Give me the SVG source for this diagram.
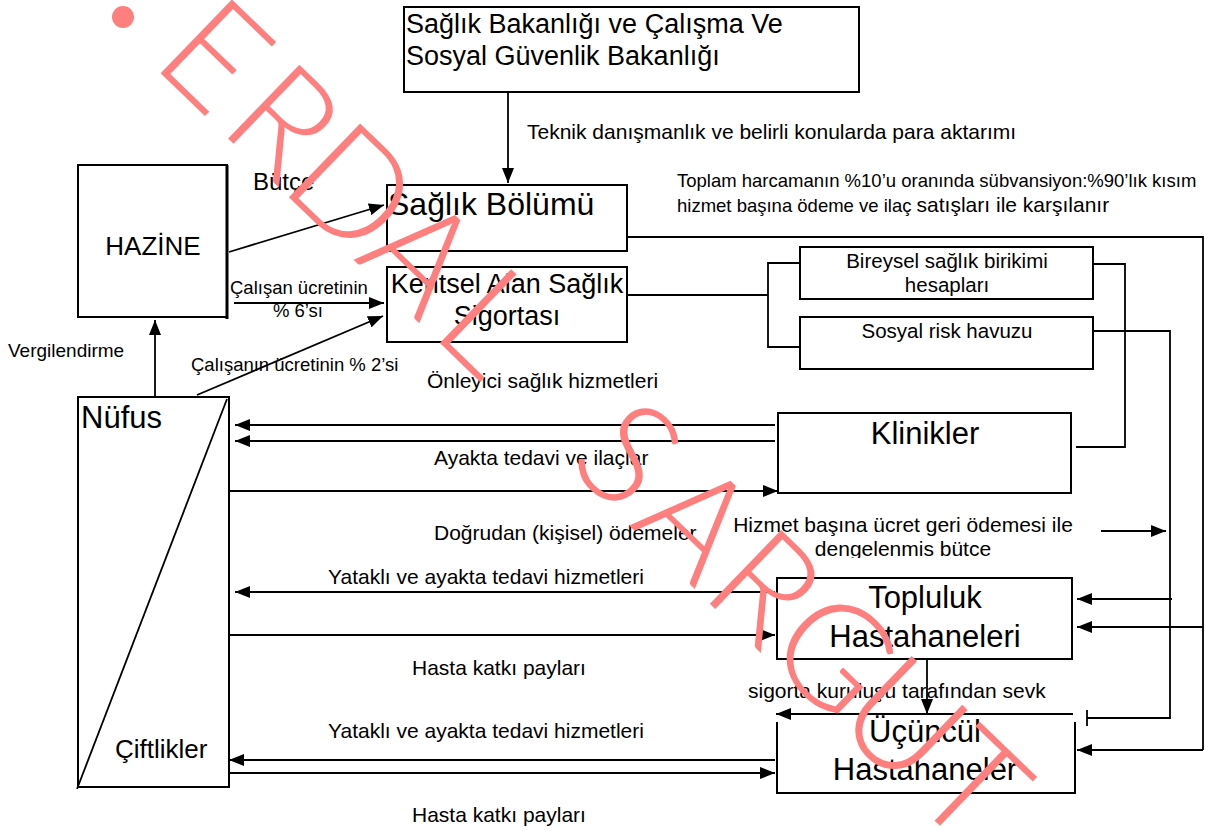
<svg xmlns="http://www.w3.org/2000/svg" width="1205" height="831" viewBox="0 0 1205 831">
<defs>
<marker id="ah" markerUnits="userSpaceOnUse" markerWidth="16" markerHeight="12" refX="15" refY="6" orient="auto">
<path d="M0,0 L15,6 L0,12 z" fill="#000"/>
</marker>
<clipPath id="clipH"><rect x="700" y="500" width="400" height="58"/></clipPath>
</defs>
<style>
text{font-family:"Liberation Sans",Arial,sans-serif;fill:#000}
.box{fill:#fff;stroke:#000;stroke-width:2}
.ln{fill:none;stroke:#000;stroke-width:1.8}
.ar{fill:none;stroke:#000;stroke-width:1.8;marker-end:url(#ah)}
.big{font-size:31px}
.mid{font-size:27px}
.lab{font-size:21px}
.sm{font-size:18.5px}
.wm{font-family:Lato,"DejaVu Sans",sans-serif;font-weight:300;font-size:145px;fill:#ff7f7f}
</style>
<rect width="1205" height="831" fill="#fff"/>

<g id="connectors">
<line class="ar" x1="508" y1="88" x2="508" y2="183"/>
<line class="ar" x1="229" y1="252" x2="384" y2="205"/>
<line class="ar" x1="234" y1="303" x2="384" y2="303"/>
<line class="ar" x1="197" y1="395" x2="383" y2="316"/>
<line class="ar" x1="155" y1="397" x2="155" y2="320"/>
<polyline class="ln" points="627,295 768,295"/>
<polyline class="ln" points="800,263 768,263 768,347 800,347"/>
<polyline class="ln" points="1093,264 1125,264 1125,447 1076,447"/>
<polyline class="ln" points="627,237 1203,237 1203,750"/>
<line class="ar" x1="1203" y1="750" x2="1077" y2="750"/>
<line class="ar" x1="1203" y1="627" x2="1077" y2="627"/>
<polyline class="ln" points="1093,331 1170,331 1170,718 1087,718"/>
<line class="ln" x1="1087" y1="710" x2="1087" y2="726"/>
<line class="ar" x1="1172" y1="599" x2="1077" y2="599"/>
<line class="ar" x1="1101" y1="531" x2="1166" y2="531"/>
<line class="ar" x1="775" y1="425" x2="235" y2="425"/>
<line class="ar" x1="775" y1="441" x2="235" y2="441"/>
<line class="ar" x1="229" y1="491" x2="778" y2="491"/>
<line class="ar" x1="775" y1="592" x2="235" y2="592"/>
<line class="ar" x1="229" y1="635" x2="775" y2="635"/>
<line class="ar" x1="775" y1="760" x2="229" y2="760"/>
<line class="ar" x1="229" y1="773" x2="775" y2="773"/>
<line class="ar" x1="927" y1="659" x2="927" y2="714"/>
<line class="ar" x1="1073" y1="714" x2="776" y2="714"/>
</g>

<g id="labels">
<text class="lab" x="527" y="139" font-size="21.5px">Teknik danışmanlık ve belirli konularda para aktarımı</text>
<text class="sm" x="677" y="187">Toplam harcamanın %10’u oranında sübvansiyon:%90’lık kısım</text>
<text class="sm" x="677" y="212">hizmet başına ödeme ve ilaç <tspan font-size="21px">satışları ile karşılanır</tspan></text>
<text x="253" y="190" font-size="24px">Bütçe</text>
<text class="sm" x="230" y="294">Çalışan ücretinin</text>
<text class="sm" x="298" y="317" text-anchor="middle">% 6’sı</text>
<text class="sm" x="191" y="371">Çalışanın ücretinin % 2’si</text>
<text x="8" y="357" font-size="19px">Vergilendirme</text>
<text class="lab" x="427" y="388">Önleyici sağlık hizmetleri</text>
<text class="lab" x="434" y="465">Ayakta tedavi ve ilaçlar</text>
<text class="lab" x="434" y="540">Doğrudan (kişisel) ödemeler</text>
<g clip-path="url(#clipH)">
<text class="lab" x="903" y="532" text-anchor="middle">Hizmet başına ücret geri ödemesi ile</text>
<text class="lab" x="903" y="556" text-anchor="middle">dengelenmis bütce</text>
</g>
<text class="lab" x="328" y="584">Yataklı ve ayakta tedavi hizmetleri</text>
<text class="lab" x="412" y="675">Hasta katkı payları</text>
<text class="lab" x="748" y="698">sigorta kuruluşu tarafından sevk</text>
<text class="lab" x="328" y="738">Yataklı ve ayakta tedavi hizmetleri</text>
<text class="lab" x="412" y="822">Hasta katkı payları</text>
</g>

<g id="bakanlik">
<rect class="box" x="404" y="7" width="455" height="85"/>
<text class="mid" x="406" y="33">Sağlık Bakanlığı ve Çalışma Ve</text>
<text class="mid" x="406" y="65">Sosyal Güvenlik Bakanlığı</text>
</g>
<g id="hazine">
<rect class="box" x="78" y="165" width="149" height="152"/>
<line x1="227" y1="165" x2="227" y2="319" stroke="#000" stroke-width="3"/>
<text x="153" y="255" font-size="26px" text-anchor="middle">HAZİNE</text>
</g>
<g id="saglik-bolumu">
<rect class="box" x="387" y="185" width="240" height="66"/>
<text x="388" y="215" font-size="32px">Sağlık Bölümü</text>
</g>
<g id="kentsel">
<rect class="box" x="387" y="267" width="240" height="75"/>
<text class="mid" x="507" y="293" text-anchor="middle">Kentsel Alan Sağlık</text>
<text class="mid" x="507" y="325" text-anchor="middle">Sigortası</text>
</g>
<g id="bireysel">
<rect class="box" x="800" y="247" width="293" height="52"/>
<text x="947" y="268" font-size="20.5px" text-anchor="middle">Bireysel sağlık birikimi</text>
<text x="947" y="292" font-size="20.5px" text-anchor="middle">hesapları</text>
</g>
<g id="sosyal">
<rect class="box" x="800" y="317" width="293" height="52"/>
<text x="947" y="338" font-size="20.5px" text-anchor="middle">Sosyal risk havuzu</text>
</g>
<g id="nufus">
<rect class="box" x="78" y="397" width="151" height="390"/>
<line class="ln" x1="77" y1="789" x2="227" y2="399"/>
<text class="big" x="81" y="428">Nüfus</text>
<text x="115" y="758" font-size="26px">Çiftlikler</text>
</g>
<g id="klinikler">
<rect class="box" x="778" y="413" width="293" height="80"/>
<text class="big" x="925" y="444" text-anchor="middle">Klinikler</text>
</g>
<g id="topluluk">
<rect class="box" x="777" y="578" width="295" height="81"/>
<text class="big" x="925" y="608" text-anchor="middle">Topluluk</text>
<text class="big" x="925" y="647" text-anchor="middle">Hastahaneleri</text>
</g>
<g id="ucuncul">
<path class="box" d="M777,722 V793 H1075 V722"/>
<text class="big" x="925" y="742" text-anchor="middle">Üçüncül</text>
<text class="big" x="925" y="780" text-anchor="middle">Hastahaneler</text>
</g>

<g id="watermark">
<circle cx="123" cy="17" r="11" fill="#ff7f7f"/>
<text class="wm" transform="translate(180,92) rotate(44)" text-anchor="middle" x="0 95.7 191.4 287.1 382.8 478.5 574.2 669.9 765.6 861.3 957 1052.7" y="0">ERDAL SARGUT</text>
</g>
</svg>
